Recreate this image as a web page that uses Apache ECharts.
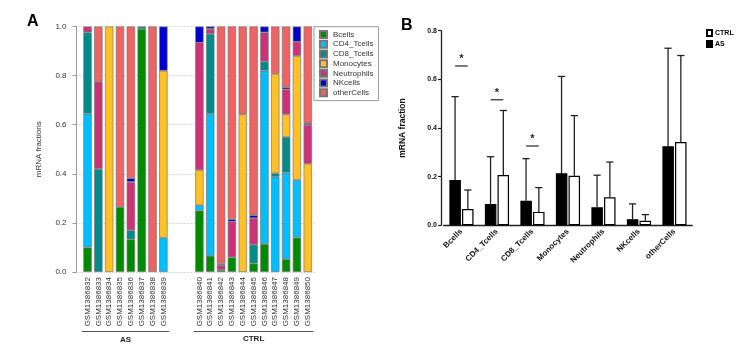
<!DOCTYPE html>
<html>
<head>
<meta charset="utf-8">
<script src="https://cdn.jsdelivr.net/npm/echarts@6/dist/echarts.min.js"></script>
<style>
  html, body { margin: 0; padding: 0; background: #fff; }
  #main { width: 744px; height: 358px; }
</style>
</head>
<body>
<div id="main"></div>
<script>
// ---- panel A: cell fractions per sample ----
var asSamples = ['GSM1386832', 'GSM1386833', 'GSM1386834', 'GSM1386835', 'GSM1386836', 'GSM1386837', 'GSM1386838', 'GSM1386839'];
var ctrlSamples = ['GSM1386840', 'GSM1386841', 'GSM1386842', 'GSM1386843', 'GSM1386844', 'GSM1386845', 'GSM1386846', 'GSM1386847', 'GSM1386848', 'GSM1386849', 'GSM1386850'];
var cellTypes = ['Bcells', 'CD4_Tcells', 'CD8_Tcells', 'Monocytes', 'Neutrophils', 'NKcells', 'otherCells'];

var asBcells = [0.10, 0, 0, 0.265, 0.133, 0.99, 0, 0];
var asCD4 = [0.545, 0, 0, 0, 0, 0, 0, 0.14];
var asCD8 = [0.331, 0.42, 0, 0, 0.037, 0.01, 0, 0];
var asMono = [0, 0, 1.0, 0, 0, 0, 0, 0.68];
var asNeut = [0.024, 0.355, 0, 0, 0.197, 0, 0, 0];
var asNK = [0, 0, 0, 0, 0.015, 0, 0, 0.18];
var asOther = [0, 0.225, 0, 0.735, 0.618, 0, 1.0, 0];

var ctrlBcells = [0.25, 0.066, 0.008, 0.06, 0, 0.035, 0.114, 0, 0.052, 0.14, 0];
var ctrlCD4 = [0.022, 0.579, 0, 0, 0, 0, 0.706, 0.388, 0.353, 0.235, 0];
var ctrlCD8 = [0, 0.325, 0, 0, 0, 0.076, 0.037, 0.014, 0.145, 0, 0];
var ctrlMono = [0.143, 0, 0, 0, 0.642, 0, 0, 0.405, 0.092, 0.505, 0.441];
var ctrlNeut = [0.519, 0.02, 0.018, 0.145, 0, 0.108, 0.119, 0, 0.102, 0.058, 0.158];
var ctrlNK = [0.066, 0.01, 0.006, 0.01, 0, 0.012, 0.024, 0, 0.008, 0.062, 0.007];
var ctrlOther = [0, 0, 0.968, 0.785, 0.358, 0.769, 0, 0.193, 0.248, 0, 0.394];

// ---- panel B: mean fraction and upper error per group ----
var asMean = [0.186, 0.088, 0.101, 0.214, 0.074, 0.025, 0.325];
var ctrlMean = [0.067, 0.207, 0.055, 0.204, 0.115, 0.019, 0.342];
var asUpper = [0.529, 0.282, 0.274, 0.612, 0.206, 0.088, 0.728];
var ctrlUpper = [0.145, 0.472, 0.155, 0.451, 0.26, 0.044, 0.698];
var sigIndex = [0, 1, 2];
var sigLevel = [0.655, 0.516, 0.326];

var cellColors = ['#008B00', '#00BFFF', '#008B8B', '#FFC125', '#CD3278', '#0000CD', '#EE6363'];

var chart = echarts.init(document.getElementById('main'));

function nz(v) { return v > 0 ? v : null; }

var asFractions = [asBcells, asCD4, asCD8, asMono, asNeut, asNK, asOther];
var ctrlFractions = [ctrlBcells, ctrlCD4, ctrlCD8, ctrlMono, ctrlNeut, ctrlNK, ctrlOther];

var series = [];
cellTypes.forEach(function (name, i) {
    var style = { color: cellColors[i], borderColor: '#777', borderWidth: 0.7 };
    series.push({
        name: name, type: 'bar', stack: 'as', xAxisIndex: 1, yAxisIndex: 1,
        barWidth: 8.4, itemStyle: style, data: asFractions[i].map(nz)
    });
    series.push({
        name: name, type: 'bar', stack: 'ctrl', xAxisIndex: 2, yAxisIndex: 2,
        barWidth: 8.4, itemStyle: style, data: ctrlFractions[i].map(nz)
    });
});

var barOffset = 6.4;
function errRender(offset) {
    return function (params, api) {
        var base = api.coord([api.value(0), api.value(1)]);
        var top = api.coord([api.value(0), api.value(2)]);
        var x = base[0] + offset;
        var st = { stroke: '#222', lineWidth: 1.3 };
        return {
            type: 'group',
            children: [
                { type: 'line', shape: { x1: x, y1: base[1], x2: x, y2: top[1] }, style: st },
                { type: 'line', shape: { x1: x - 3.6, y1: top[1], x2: x + 3.6, y2: top[1] }, style: st }
            ]
        };
    };
}

series.push({
    name: 'AS', type: 'bar', xAxisIndex: 5, yAxisIndex: 3,
    barWidth: 11.5, barGap: '10%',
    itemStyle: { color: '#000', borderColor: '#000', borderWidth: 1.2 },
    data: asMean
});
series.push({
    name: 'CTRL', type: 'bar', xAxisIndex: 5, yAxisIndex: 3,
    barWidth: 11.5, barGap: '10%',
    itemStyle: { color: '#fff', borderColor: '#000', borderWidth: 1.2 },
    data: ctrlMean
});
series.push({
    type: 'custom', xAxisIndex: 5, yAxisIndex: 3, renderItem: errRender(-barOffset),
    data: cellTypes.map(function (c, i) { return [i, asMean[i], asUpper[i]]; })
});
series.push({
    type: 'custom', xAxisIndex: 5, yAxisIndex: 3, renderItem: errRender(barOffset),
    data: cellTypes.map(function (c, i) { return [i, ctrlMean[i], ctrlUpper[i]]; })
});
series.push({
    type: 'custom', xAxisIndex: 5, yAxisIndex: 3,
    renderItem: function (params, api) {
        var p = api.coord([api.value(0), api.value(1)]);
        return {
            type: 'group',
            children: [
                { type: 'line', shape: { x1: p[0] - 6.3, y1: p[1], x2: p[0] + 6.3, y2: p[1] },
                  style: { stroke: '#222', lineWidth: 1.2 } },
                { type: 'text', x: p[0], y: p[1] - 7,
                  style: { text: '*', fill: '#222', font: 'bold 11px "Liberation Sans"', align: 'center', verticalAlign: 'middle' } }
            ]
        };
    },
    data: sigIndex.map(function (c, k) { return [c, sigLevel[k]]; })
});

var gridTop = 26.5, gridH = 245.5;
var labelA = { fontSize: 8, color: '#333' };

chart.setOption({
    animation: false,
    textStyle: { fontFamily: 'Liberation Sans' },
    title: [
        { text: 'A', left: 27, top: 14, padding: 0, textStyle: { fontSize: 16, fontWeight: 'bold', color: '#000' } },
        { text: 'B', left: 401, top: 18, padding: 0, textStyle: { fontSize: 16, fontWeight: 'bold', color: '#000' } }
    ],
    legend: [
        {
            data: cellTypes, orient: 'vertical', left: 314, top: 26.7,
            padding: [3, 5, 3, 5], itemGap: 0, itemWidth: 7, itemHeight: 7,
            icon: 'rect', selectedMode: false,
            borderColor: '#999', borderWidth: 1,
            textStyle: { fontSize: 8, color: '#333', lineHeight: 9.7, padding: [0, 0, 0, 1] }
        },
        {
            data: ['CTRL', 'AS'], orient: 'vertical', left: 706, top: 29,
            padding: 0, itemGap: 3, itemWidth: 5, itemHeight: 6,
            icon: 'rect', selectedMode: false,
            textStyle: { fontSize: 7, fontWeight: 'bold', color: '#000', padding: [0, 0, 0, -2] }
        }
    ],
    grid: [
        { left: 76.5, top: gridTop, width: 238, height: gridH, outerBoundsMode: 'none' },
        { left: 82.1, top: gridTop, width: 86.7, height: gridH, outerBoundsMode: 'none' },
        { left: 194, top: gridTop, width: 119.2, height: gridH, outerBoundsMode: 'none' },
        { left: 443.7, top: 30.7, width: 248.5, height: 194.6, outerBoundsMode: 'none' }
    ],
    xAxis: [
        { gridIndex: 0, type: 'value', show: false },
        {
            gridIndex: 1, type: 'category', data: asSamples, position: 'bottom',
            axisLine: { show: false }, axisTick: { show: false },
            axisLabel: Object.assign({ rotate: 90, interval: 0, margin: 5 }, labelA)
        },
        {
            gridIndex: 2, type: 'category', data: ctrlSamples, position: 'bottom',
            axisLine: { show: false }, axisTick: { show: false },
            axisLabel: Object.assign({ rotate: 90, interval: 0, margin: 5 }, labelA)
        },
        {
            gridIndex: 1, type: 'category', data: asSamples, position: 'bottom', offset: 59.5,
            axisLine: { lineStyle: { color: '#555', width: 1 } }, axisTick: { show: false }, axisLabel: { show: false },
            name: 'AS', nameLocation: 'middle', nameGap: 4,
            nameTextStyle: { fontSize: 8, fontWeight: 'bold', color: '#222' }
        },
        {
            gridIndex: 2, type: 'category', data: ctrlSamples, position: 'bottom', offset: 59,
            axisLine: { lineStyle: { color: '#555', width: 1 } }, axisTick: { show: false }, axisLabel: { show: false },
            name: 'CTRL', nameLocation: 'middle', nameGap: 4,
            nameTextStyle: { fontSize: 8, fontWeight: 'bold', color: '#222' }
        },
        {
            gridIndex: 3, type: 'category', data: cellTypes, position: 'bottom',
            axisLine: { lineStyle: { color: '#222', width: 1.3 } }, axisTick: { show: false },
            axisLabel: { rotate: 45, interval: 0, margin: 5, fontSize: 8, fontWeight: 'bold', color: '#111' }
        }
    ],
    yAxis: [
        {
            gridIndex: 0, type: 'value', min: 0, max: 1, interval: 0.2,
            axisLine: { show: true, lineStyle: { color: '#999' } },
            axisTick: { show: true, length: 4, lineStyle: { color: '#999' } },
            axisLabel: { fontSize: 8, color: '#333', margin: 10, formatter: function (v) { return v.toFixed(1); } },
            splitLine: { show: true, lineStyle: { type: [1, 2], color: '#bbb' } },
            name: 'mRNA fractions', nameLocation: 'middle', nameGap: 33.5,
            nameTextStyle: { fontSize: 8, color: '#333' }
        },
        { gridIndex: 1, type: 'value', min: 0, max: 1, show: false },
        { gridIndex: 2, type: 'value', min: 0, max: 1, show: false },
        {
            gridIndex: 3, type: 'value', min: 0, max: 0.8, interval: 0.2, offset: 2.7,
            axisLine: { show: true, lineStyle: { color: '#222', width: 1.3 } },
            axisTick: { show: true, length: 3, lineStyle: { color: '#222', width: 1.2 } },
            axisLabel: { fontSize: 7, fontWeight: 'bold', color: '#111', margin: 4, formatter: function (v) { return v.toFixed(1); } },
            splitLine: { show: false },
            name: 'mRNA fraction', nameLocation: 'middle', nameGap: 34,
            nameTextStyle: { fontSize: 8.5, fontWeight: 'bold', color: '#111' }
        }
    ],
    series: series
});
</script>
</body>
</html>
